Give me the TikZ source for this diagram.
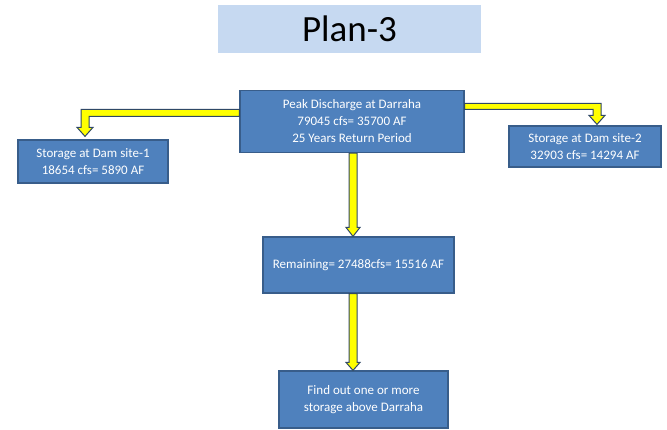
\documentclass[tikz,border=0pt]{standalone}
\usepackage{fontspec}
\setmainfont{Carlito}
\usepackage{tikz}
\usetikzlibrary{calc, positioning}
\definecolor{boxblue}{RGB}{79, 129, 189}
\definecolor{boxedge}{RGB}{56, 93, 138}
\definecolor{titleblue}{RGB}{198, 217, 241}
\definecolor{arrowedge}{RGB}{47, 72, 102}
\definecolor{arrowfill}{RGB}{255, 255, 0}

\begin{document}
\begin{tikzpicture}[x=1pt, y=1pt,
    planbox/.style={rectangle, fill=boxblue, draw=boxedge, line width=1.2pt, text=white, align=center, font=\fontsize{13}{17}\selectfont},
    blockarrow/.style={fill=arrowfill, draw=arrowedge, line width=1pt, line join=miter}]
    \useasboundingbox (0, 0) rectangle (667, 429);

    % 标题
    \node[rectangle, fill=titleblue, minimum width=263pt, minimum height=48pt, font=\fontsize{37}{40}\selectfont] (title) at (349.5, 400) {Plan-3};

    % 各框
    \node[planbox, minimum width=224pt, minimum height=62pt] (peak) at (352, 307.5) {Peak Discharge at Darraha\\79045 cfs= 35700 AF\\25 Years Return Period};
    \node[planbox, minimum width=150pt, minimum height=43pt] (site1) at (93, 267.5) {Storage at Dam site-1\\18654 cfs= 5890 AF};
    \node[planbox, minimum width=152pt, minimum height=41pt] (site2) at (585, 282.5) {Storage at Dam site-2\\32903 cfs= 14294 AF};
    \node[planbox, minimum width=191pt, minimum height=56pt] (rest) at (358.5, 164) {Remaining= 27488cfs= 15516 AF};
    \node[planbox, minimum width=169pt, minimum height=57pt] (find) at (363.5, 29.5) {Find out one or more\\storage above Darraha};

    % 左右分支箭头
    \draw[blockarrow] let \p1=(peak.west), \p2=($(site1.north)+(-8,3)$) in
        (\x1,\y1+12pt) -- (\x2-4pt,\y1+12pt) -- (\x2-4pt,\y2+9pt) -- (\x2-8pt,\y2+9pt) -- (\x2,\y2)
        -- (\x2+8pt,\y2+9pt) -- (\x2+4pt,\y2+9pt) -- (\x2+4pt,\y1+5pt) -- (\x1,\y1+5pt) -- cycle;
    \draw[blockarrow] let \p1=(peak.east), \p2=($(site2.north)+(12,1)$) in
        (\x1,\y1+18pt) -- (\x2+4pt,\y1+18pt) -- (\x2+4pt,\y2+9pt) -- (\x2+8pt,\y2+9pt) -- (\x2,\y2)
        -- (\x2-8pt,\y2+9pt) -- (\x2-4pt,\y2+9pt) -- (\x2-4pt,\y1+12pt) -- (\x1,\y1+12pt) -- cycle;

    % 向下箭头
    \draw[blockarrow] let \p1=($(peak.south)+(1,0)$), \p2=(rest.north) in
        (\x1-4pt,\y1) -- (\x1-4pt,\y2+9pt) -- (\x1-7pt,\y2+9pt) -- (\x1,\y2)
        -- (\x1+7pt,\y2+9pt) -- (\x1+4pt,\y2+9pt) -- (\x1+4pt,\y1) -- cycle;
    \draw[blockarrow] let \p1=($(rest.south)+(-5.5,0)$), \p2=(find.north) in
        (\x1-4pt,\y1) -- (\x1-4pt,\y2+8pt) -- (\x1-7pt,\y2+8pt) -- (\x1,\y2)
        -- (\x1+7pt,\y2+8pt) -- (\x1+4pt,\y2+8pt) -- (\x1+4pt,\y1) -- cycle;
\end{tikzpicture}
\end{document}
